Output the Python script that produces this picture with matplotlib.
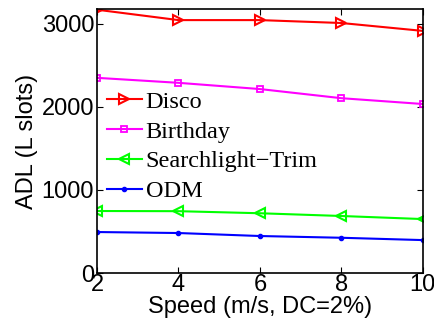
import matplotlib.pyplot as plt

speed = [2, 4, 6, 8, 10]
disco = [3170, 3045, 3045, 3010, 2915]
birthday = [2350, 2290, 2215, 2105, 2035]
searchlight = [747, 745, 720, 687, 650]
odm = [494, 482, 446, 425, 397]

fig = plt.figure(figsize=(4.35, 3.29), dpi=100)
ax = fig.add_axes([0.223, 0.170, 0.749, 0.803])

ax.plot(speed, disco, color='red', marker='>', mfc='none', ms=6.5, mew=1.5, lw=1.5, label='Disco')
ax.plot(speed, birthday, color='magenta', marker='s', mfc='none', ms=5, mew=1.3, lw=1.5, label='Birthday')
ax.plot(speed, searchlight, color='#00ff00', marker='<', mfc='none', ms=6.5, mew=1.5, lw=1.5, label='Searchlight\u2212Trim')
ax.plot(speed, odm, color='blue', marker='.', ms=6, lw=1.5, label='ODM')

ax.set_xlim(2, 10)
ax.set_ylim(0, 3180)
ax.set_xticks([2, 4, 6, 8, 10])
ax.set_yticks([0, 1000, 2000, 3000])
ax.tick_params(direction='in', top=True, right=True, labelsize=17, length=4, pad=1)
ax.tick_params(axis='y', pad=2)
for lab in ax.get_xticklabels() + ax.get_yticklabels():
    lab.set_family('Liberation Sans')
for s in ax.spines.values():
    s.set_linewidth(1.2)

ax.set_xlabel('Speed (m/s, DC=2%)', fontsize=17, family='Liberation Sans', labelpad=0)
ax.set_ylabel('ADL (L slots)', fontsize=17, family='Liberation Sans', labelpad=3)

ax.legend(loc='upper left', bbox_to_anchor=(0.03, 0.69), frameon=False,
          prop={'family': 'Liberation Serif', 'size': 17.5}, handlelength=1.45,
          handletextpad=0.15, labelspacing=0.32, borderaxespad=0, borderpad=0)

fig.savefig('out.png', dpi=100)
